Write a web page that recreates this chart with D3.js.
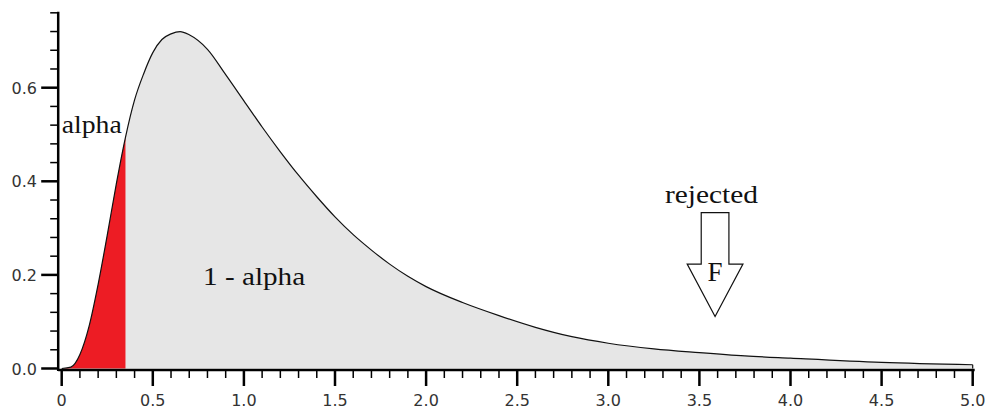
<!DOCTYPE html>
<html>
<head>
<meta charset="utf-8">
<script src="https://cdn.jsdelivr.net/npm/d3@7"></script>
<style>
  html, body { margin: 0; padding: 0; background: #ffffff; }
  svg { display: block; }
  .serif { font-family: "Liberation Serif", "Times New Roman", Times, serif; }
  .sans { font-family: "DejaVu Sans", sans-serif; }
</style>
</head>
<body>
<svg id="chart" width="987" height="412"></svg>
<script>
// Density curve
const xValues = [0, 0.05, 0.1, 0.15, 0.2, 0.25, 0.3, 0.35, 0.4, 0.45, 0.5, 0.55, 0.6, 0.65, 0.7, 0.8, 0.9, 1.0, 1.1, 1.2, 1.3, 1.4, 1.5, 1.6, 1.7, 1.8, 1.9, 2.0, 2.2, 2.4, 2.6, 2.8, 3.0, 3.25, 3.5, 3.75, 4.0, 4.5, 5.0];
const yValues = [0, 0.003, 0.03, 0.09, 0.18, 0.285, 0.395, 0.494, 0.574, 0.63, 0.675, 0.703, 0.715, 0.72, 0.713, 0.682, 0.628, 0.572, 0.516, 0.463, 0.413, 0.367, 0.324, 0.286, 0.253, 0.223, 0.197, 0.175, 0.141, 0.113, 0.088, 0.068, 0.054, 0.042, 0.034, 0.027, 0.022, 0.013, 0.008];
const alphaCut = 0.35;
const xTickValues = [0, 0.5, 1.0, 1.5, 2.0, 2.5, 3.0, 3.5, 4.0, 4.5, 5.0];
const xTickLabels = ["0", "0.5", "1.0", "1.5", "2.0", "2.5", "3.0", "3.5", "4.0", "4.5", "5.0"];
const yTickValues = [0, 0.2, 0.4, 0.6];
const yTickLabels = ["0.0", "0.2", "0.4", "0.6"];
const xDomain = [0, 5];
const yDomain = [0, 0.76];
// annotations (data units)
const labels = [
  { text: "alpha", x: 0.0, y: 0.503 },
  { text: "1 - alpha", x: 0.776, y: 0.178 },
  { text: "rejected", x: 3.311, y: 0.354 }
];
const arrow = { x: 3.586, top: 0.333, neck: 0.223, tip: 0.111, shaftHalf: 0.076, headHalf: 0.153, label: "F" };

const data = xValues.map((x, i) => ({ x, y: yValues[i] }));

const svg = d3.select("#chart");
const x = d3.scaleLinear().domain(xDomain).range([61.7, 972.7]);
const y = d3.scaleLinear().domain(yDomain).range([368.5, 368.5 - 0.76 * 468]);

const curve = d3.curveMonotoneX;
const area = d3.area().x(d => x(d.x)).y0(y(0)).y1(d => y(d.y)).curve(curve);
const line = d3.line().x(d => x(d.x)).y(d => y(d.y)).curve(curve);

// grey fill
svg.append("path").datum(data).attr("d", area).attr("fill", "#e6e6e6");

// red region clipped to x <= alphaCut
svg.append("clipPath").attr("id", "alphaClip")
  .append("rect").attr("x", 0).attr("y", 0).attr("width", x(alphaCut)).attr("height", 412);
svg.append("path").datum(data).attr("d", area).attr("fill", "#ed1c24").attr("clip-path", "url(#alphaClip)");

// curve outline
svg.append("path").datum(data).attr("d", line).attr("fill", "none").attr("stroke", "#111").attr("stroke-width", 1.2);
const last = data[data.length - 1];
svg.append("line").attr("x1", x(last.x)).attr("x2", x(last.x)).attr("y1", y(last.y)).attr("y2", y(0))
  .attr("stroke", "#111").attr("stroke-width", 1.2);

// axes
const axisColor = "#000";
const xAxisY = y(0) + 1.5;
const yAxisX = x(0) - 3.5;

// x axis
const xAxis = svg.append("g");
xAxis.append("line").attr("x1", yAxisX).attr("x2", x(5) + 2).attr("y1", xAxisY).attr("y2", xAxisY)
  .attr("stroke", axisColor).attr("stroke-width", 2.5);
const xMinor = d3.range(0, 50).map(i => i / 10).filter(v => Math.abs(v * 2 - Math.round(v * 2)) > 1e-6);
xAxis.selectAll(".xminor").data(xMinor).join("line")
  .attr("x1", d => x(d)).attr("x2", d => x(d)).attr("y1", xAxisY).attr("y2", xAxisY + 8)
  .attr("stroke", axisColor).attr("stroke-width", 1.5);
xAxis.selectAll(".xmajor").data(xTickValues).join("line")
  .attr("x1", d => x(d)).attr("x2", d => x(d)).attr("y1", xAxisY).attr("y2", xAxisY + 16)
  .attr("stroke", axisColor).attr("stroke-width", 2.5);
xAxis.selectAll(".xlab").data(xTickValues).join("text")
  .attr("class", "sans")
  .attr("x", d => x(d)).attr("y", 406)
  .attr("text-anchor", "middle")
  .attr("font-size", 16).attr("fill", "#333")
  .text((d, i) => xTickLabels[i]);

// y axis
const yAxis = svg.append("g");
yAxis.append("line").attr("x1", yAxisX).attr("x2", yAxisX).attr("y1", y(0.76) - 1).attr("y2", xAxisY + 1)
  .attr("stroke", axisColor).attr("stroke-width", 2.5);
const yMinor = d3.range(1, 20).map(i => i * 0.04).filter(v => Math.abs(v / 0.2 - Math.round(v / 0.2)) > 1e-6);
yAxis.selectAll(".yminor").data(yMinor).join("line")
  .attr("x1", yAxisX - 8).attr("x2", yAxisX).attr("y1", d => y(d)).attr("y2", d => y(d))
  .attr("stroke", axisColor).attr("stroke-width", 1.5);
yAxis.selectAll(".ymajor").data(yTickValues).join("line")
  .attr("x1", yAxisX - 17).attr("x2", yAxisX).attr("y1", d => y(d)).attr("y2", d => y(d))
  .attr("stroke", axisColor).attr("stroke-width", 2.5);
yAxis.selectAll(".ylab").data(yTickValues).join("text")
  .attr("class", "sans")
  .attr("x", 37).attr("y", d => y(d) + 6)
  .attr("text-anchor", "end")
  .attr("font-size", 16).attr("fill", "#333")
  .text((d, i) => yTickLabels[i]);

// annotation labels
const textLens = { "alpha": 60, "1 - alpha": 102, "rejected": 93 };
svg.selectAll(".ann").data(labels).join("text")
  .attr("class", "serif")
  .attr("x", d => x(d.x)).attr("y", d => y(d.y))
  .attr("font-size", 26).attr("fill", "#111")
  .attr("textLength", d => textLens[d.text]).attr("lengthAdjust", "spacingAndGlyphs")
  .text(d => d.text);

// arrow
const pts = [
  [arrow.x - arrow.shaftHalf, arrow.top],
  [arrow.x + arrow.shaftHalf, arrow.top],
  [arrow.x + arrow.shaftHalf, arrow.neck],
  [arrow.x + arrow.headHalf, arrow.neck],
  [arrow.x, arrow.tip],
  [arrow.x - arrow.headHalf, arrow.neck],
  [arrow.x - arrow.shaftHalf, arrow.neck]
];
svg.append("path")
  .attr("d", d3.line().x(p => x(p[0])).y(p => y(p[1]))(pts) + "Z")
  .attr("fill", "#fff").attr("stroke", "#111").attr("stroke-width", 1.2);
svg.append("text").attr("class", "serif").attr("x", x(arrow.x)).attr("y", y(arrow.neck) + 17)
  .attr("text-anchor", "middle")
  .attr("font-size", 27).attr("fill", "#111")
  .text(arrow.label);
</script>
</body>
</html>
